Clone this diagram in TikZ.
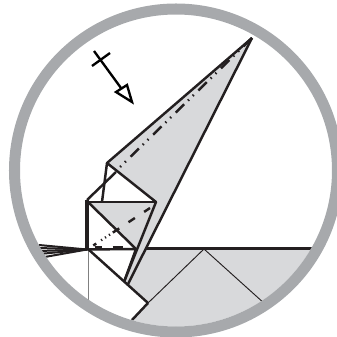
\documentclass[tikz,border=0pt]{standalone}
\usetikzlibrary{arrows.meta,positioning}
\definecolor{paper}{HTML}{D8D9DB}
\definecolor{ring}{HTML}{A7A9AC}
\definecolor{ink}{HTML}{231F20}

\begin{document}
\begin{tikzpicture}[
	x=0.03cm, y=-0.03cm,
	fold/.style={draw=ink, line width=2.1pt, line join=round},
	heavy/.style={draw=ink, line width=3.6pt},
	crease/.style={draw=ink, line width=0.8pt},
	fan/.style={draw=ink, line width=1.7pt},
	valley/.style={draw=ink, line width=2.1pt},
	pointer/.style={draw=black, line width=2pt, line join=miter}
]
\useasboundingbox (0,0) rectangle (337,337);

% Corners of the folded model.
\coordinate (tip) at (252,38);
\coordinate (flap) at (107,163);
\coordinate (right) at (156,202);
\coordinate (squareTL) at (88,202);
\coordinate (squareBL) at (88,249);
\coordinate (squareBR) at (136,249);
\coordinate (outerTL) at (87,200);
\coordinate (outerBL) at (87,249.5);
\coordinate (footA) at (128,284);
\coordinate (footB) at (124,282);
\coordinate (corner) at (148,303);

% Grey paper, cut off by the ring.
\begin{scope}
	\clip (176,170.5) circle [radius=156];
	\fill[paper] (138,249) -- (335,249) -- (335,337) -- (125,337) -- (132,320) -- (corner) -- (footA) -- cycle;
	\draw[crease] (corner) -- (204,249) -- (265,304);
	\draw[fold] (140,248.5) -- (320,248.5);
	\draw[fold] (corner) -- (132,320);
\end{scope}
\fill[paper] (tip) -- (flap) -- (right) -- (squareTL) -- (squareBR) -- (footB) -- (footA) -- cycle;

% Fan of layers and thin edge below the square.
\foreach \y in {245,248,251,254,258} {
	\draw[fan] (outerBL) -- (39,\y);
}
\draw[draw=black!50, line width=0.8pt] (88.7,250) -- (88.7,302);

% Square and flap outlines.
\draw[fold] (tip) -- (flap) -- (right) -- (footB);
\draw[fold] (tip) -- (footA);
\draw[fold] (flap) -- (102,202);
\draw[fold] (116,172) -- (outerTL);
\draw[heavy] (outerTL) -- (outerBL);
\draw[fold] (squareTL) -- (right);
\draw[fold] (squareTL) -- (squareBR);
\draw[fold] (outerBL) -- (squareBR);
\draw[fold] (squareBR) -- (footB);
\draw[fold] (squareBL) -- (corner);

% Fold lines.
\draw[valley, dash pattern=on 10pt off 5.5pt on 1.2pt off 4.5pt on 1.2pt off 4.6pt] (tip) -- (120,167);
\draw[valley, dash pattern=on 6pt off 9.5pt on 6.5pt off 9.5pt on 6.5pt off 3pt on 1pt off 3pt on 1pt off 3pt on 1pt off 5pt on 3pt off 20pt] (150,208) -- (squareBL);
\draw[draw=ink, line width=2.4pt, dash pattern=on 6pt off 9pt on 8.5pt off 20pt] (95,247.3) -- (134,247.3);

% Turn-over symbol.
\draw[pointer] (94,51) -- (121,88);
\draw[pointer] (92,66) -- (110,53);
\draw[pointer] (116,92) -- (127,85) -- (132,102) -- cycle;

% Ring.
\draw[draw=ring, line width=9.4pt] (176,170.5) circle [radius=161.5];
\end{tikzpicture}
\end{document}
